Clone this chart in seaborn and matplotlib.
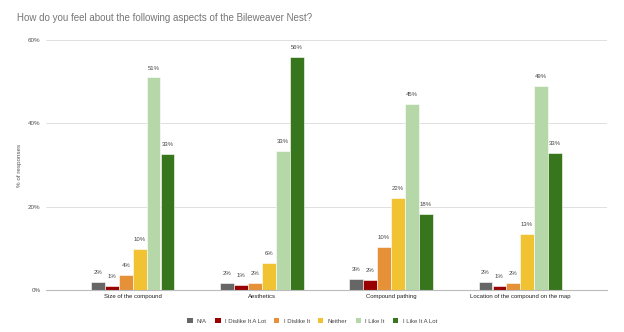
import matplotlib
matplotlib.use("Agg")
import matplotlib.pyplot as plt
import seaborn as sns
import pandas as pd
from matplotlib.patches import Patch

categories = ["Size of the compound", "Aesthetics", "Compound pathing",
              "Location of the compound on the map"]
responses = ["N/A", "I Dislike It A Lot", "I Dislike It", "Neither", "I Like It", "I Like It A Lot"]
na_vals = [2.0, 1.6, 2.6, 2.0]
dislike_lot_vals = [1.0, 1.2, 2.4, 1.0]
dislike_vals = [3.6, 1.6, 10.4, 1.8]
neither_vals = [9.8, 6.4, 22.2, 13.4]
like_vals = [51.0, 33.3, 44.6, 48.9]
like_lot_vals = [32.6, 56.0, 18.2, 32.8]
colors = ["#666666", "#990000", "#e69138", "#f1c232", "#b6d7a8", "#38761d"]

series = [na_vals, dislike_lot_vals, dislike_vals, neither_vals, like_vals, like_lot_vals]
rows = []
for resp, vals in zip(responses, series):
    for cat, v in zip(categories, vals):
        rows.append({"Aspect": cat, "Response": resp, "Value": v})
df = pd.DataFrame(rows)

sns.set_theme(style="white")
plt.rcParams["font.family"] = ["Liberation Sans", "DejaVu Sans"]

fig = plt.figure(figsize=(6.24, 3.32), dpi=100)
ax = fig.add_axes([46/624, 1-290/332, (607-46)/624, 250/332])

sns.barplot(data=df, x="Aspect", y="Value", hue="Response", order=categories,
            hue_order=responses, palette=colors, saturation=1, width=0.65, gap=0.06,
            edgecolor="white", linewidth=0.4, ax=ax, legend=False)

for cont in ax.containers:
    labels = [f"{round(b.get_height()):.0f}%" for b in cont]
    ax.bar_label(cont, labels=labels, padding=5, fontsize=4.3, color="#444444")

ax.set_xlim(-0.674, 3.674)
ax.set_ylim(0, 60)
ax.set_yticks([0, 20, 40, 60])
ax.set_yticklabels(["0%", "20%", "40%", "60%"])
ax.tick_params(axis="y", labelsize=4.5, labelcolor="#555555", length=0, pad=4)
ax.tick_params(axis="x", labelsize=4.3, labelcolor="#222222", length=0, pad=3)
ax.grid(axis="y", color="#e0e0e0", linewidth=0.7)
ax.set_axisbelow(True)
for s in ["top", "right", "left"]:
    ax.spines[s].set_visible(False)
ax.spines["bottom"].set_color("#bbbbbb")
ax.spines["bottom"].set_linewidth(0.8)
ax.set_xlabel("")
ax.set_ylabel("% of responses", fontsize=4.5, color="#555555", labelpad=4)

fig.text(17/624, 1-18/332, "How do you feel about the following aspects of the Bileweaver Nest?",
         fontsize=7, color="#757575", va="center", ha="left")

handles = [Patch(facecolor=c, edgecolor="none") for c in colors]
fig.legend(handles, responses, loc="center", bbox_to_anchor=(312/624, 1-321/332),
           ncol=6, frameon=False, fontsize=4.3, handlelength=0.9, handleheight=0.9,
           handletextpad=0.7, columnspacing=1.4, labelcolor="#444444")

fig.savefig("out.png", dpi=100)
